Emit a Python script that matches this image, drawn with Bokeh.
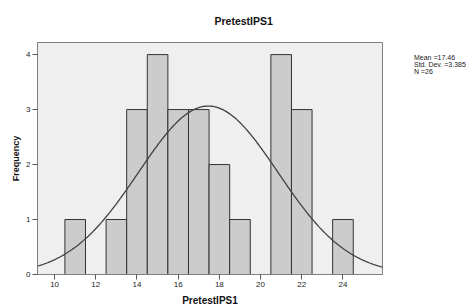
import numpy as np
from bokeh.plotting import figure
from bokeh.models import Range1d, FixedTicker, Title, Legend, LegendItem
from bokeh.embed import file_html
from bokeh.resources import INLINE

# data
bin_centers = [11, 13, 14, 15, 16, 17, 18, 19, 21, 22, 24]
counts = [1, 1, 3, 4, 3, 3, 2, 1, 4, 3, 1]
bin_width = 1.0
mean = 17.46
std = 3.385
n = 26
x_ticks = [10, 12, 14, 16, 18, 20, 22, 24]
y_ticks = [0, 1, 2, 3, 4]
stats = ["Mean =17.46", "Std. Dev. =3.385", "N =26"]

FONT = "Liberation Sans"

p = figure(output_backend="svg", toolbar_location=None,
           frame_width=345, frame_height=232,
           min_border_left=37, min_border_right=94,
           min_border_top=41, min_border_bottom=34,
           x_range=Range1d(9.17, 25.92), y_range=Range1d(0, 4.22),
           background_fill_color="#efefef", border_fill_color="white")

p.outline_line_color = "#808080"
p.outline_line_width = 1
p.grid.visible = False

p.vbar(x=bin_centers, top=counts, width=bin_width, bottom=0,
       fill_color="#cccccc", line_color="#333333", line_width=1)

xs = np.linspace(9.17, 25.92, 300)
ys = n * bin_width * np.exp(-0.5 * ((xs - mean) / std) ** 2) / (std * np.sqrt(2 * np.pi))
p.line(xs, ys, line_color="#404040", line_width=1.3)

for ax in (p.xaxis[0], p.yaxis[0]):
    ax.axis_line_color = "#808080"
    ax.major_tick_line_color = "#555555"
    ax.major_tick_out = 5
    ax.major_tick_in = 0
    ax.minor_tick_out = 0
    ax.minor_tick_in = 0
    ax.major_label_text_font = FONT
    ax.major_label_text_font_size = "8px"
    ax.major_label_text_color = "#222222"
    ax.axis_label_text_font = FONT
    ax.axis_label_text_font_style = "bold"
    ax.axis_label_text_color = "#111111"

p.xaxis.ticker = FixedTicker(ticks=x_ticks)
p.yaxis.ticker = FixedTicker(ticks=y_ticks)
p.xaxis.axis_label = "PretestIPS1"
p.yaxis.axis_label = "Frequency"
p.xaxis.axis_label_text_font_size = "10px"
p.yaxis.axis_label_text_font_size = "9px"
p.xaxis.axis_label_standoff = 5
p.yaxis.axis_label_standoff = 2
p.xaxis.major_label_standoff = 2
p.yaxis.major_label_standoff = 2

t = Title(text="PretestIPS1", align="left", offset=177,
          text_font=FONT, text_font_size="10.5px", text_font_style="bold",
          text_color="#111111", standoff=28, vertical_align="top")
p.add_layout(t, "above")

dummy = p.scatter([], [], alpha=0)
items = [LegendItem(label=s, renderers=[dummy]) for s in stats]
leg = Legend(items=items, location="top_left", glyph_width=0, glyph_height=6,
             label_height=6, label_standoff=20, spacing=0, padding=0,
             margin=12, border_line_alpha=0, background_fill_alpha=0,
             label_text_font=FONT, label_text_font_size="7px",
             label_text_color="#222222",
             label_text_line_height=0.9)
p.add_layout(leg, "right")

open("out.html", "w").write(file_html(p, INLINE))
